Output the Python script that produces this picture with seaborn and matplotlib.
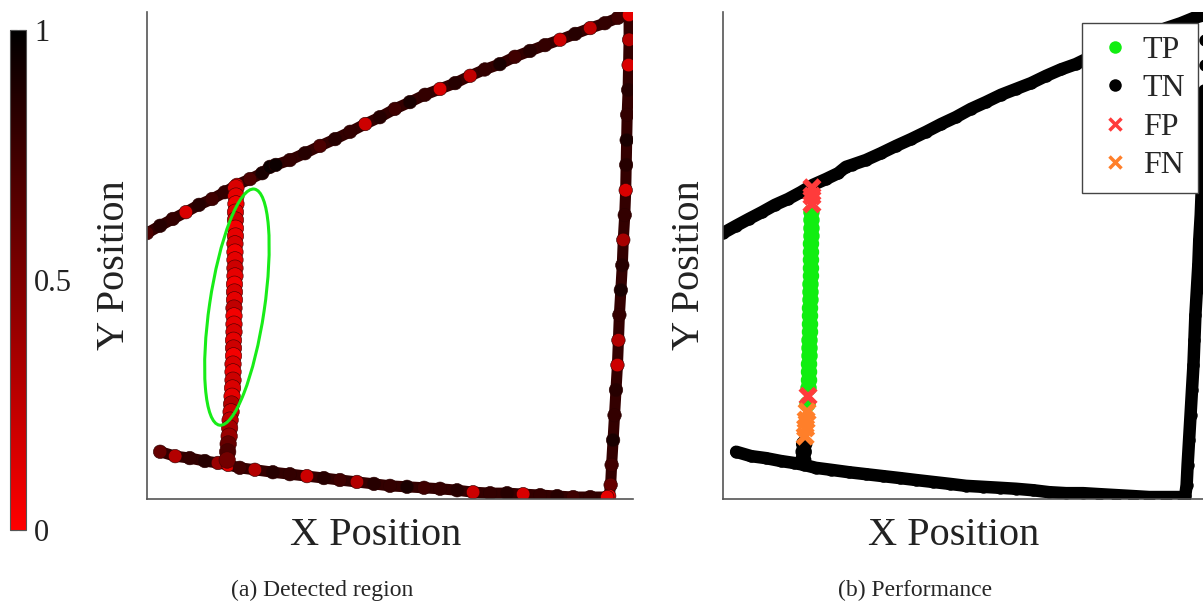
import pandas as pd
import seaborn as sns
import matplotlib
matplotlib.use('Agg')
import matplotlib.pyplot as plt
from matplotlib.colors import LinearSegmentedColormap, Normalize
from matplotlib.cm import ScalarMappable
from matplotlib.patches import Ellipse
from matplotlib.lines import Line2D

# trajectory (arbitrary units, 0-100 on both axes)
# upper diagonal, left end -> top right corner
top_x = [0.0, 2.7, 5.3, 8.0, 10.7, 13.4, 16.0, 18.5, 21.2, 23.7, 25.3, 26.5, 29.4, 32.5, 35.6, 38.7, 41.8, 44.9,
         47.9, 51.0, 54.1, 57.2, 60.3, 63.4, 66.5, 69.5, 72.6, 75.7, 78.8, 81.9, 85.0, 88.1, 91.2, 94.2, 96.9, 99.2]
top_y = [54.6, 56.1, 57.5, 58.9, 60.4, 61.6, 63.0, 64.5, 65.7, 66.9, 68.2, 68.6, 69.6, 71.0, 72.5, 73.9, 75.4, 77.0,
         78.4, 80.1, 81.5, 83.0, 84.2, 85.4, 86.9, 88.2, 89.3, 90.8, 92.0, 93.2, 94.3, 95.5, 96.7, 97.7, 98.8, 99.4]
top_score = [0.7, 0.85, 0.8, 0.15, 0.85, 0.75, 0.8, 0.1, 0.7, 0.9, 0.95, 0.95, 0.8, 0.85, 0.7, 0.85, 0.8, 0.2,
             0.85, 0.75, 0.9, 0.8, 0.15, 0.85, 0.25, 0.8, 0.9, 0.75, 0.85, 0.8, 0.2, 0.85, 0.25, 0.8, 0.75, 0.1]

# right side, top -> bottom
right_x = [99.2, 99.2, 99.1, 99.0, 98.8, 98.7, 98.6, 98.5, 98.3, 98.0, 97.8, 97.5, 97.2, 97.0, 96.8, 96.5, 96.2,
           95.9, 95.6, 95.4, 95.1]
right_y = [99.4, 94.3, 89.1, 84.0, 78.9, 73.7, 68.6, 63.4, 58.3, 53.2, 48.0, 42.9, 37.8, 32.6, 27.5, 22.4, 17.2,
           12.1, 7.0, 2.9, 0.6]
right_score = [0.1, 0.3, 0.15, 0.85, 0.8, 0.9, 0.85, 0.15, 0.8, 0.35, 0.85, 0.9, 0.8, 0.3, 0.2, 0.85, 0.8,
               0.9, 0.75, 0.6, 0.1]

# bottom, left end -> bottom right corner
bottom_x = [2.7, 5.8, 8.8, 11.9, 14.6, 16.7, 19.1, 22.2, 25.9, 29.4, 32.9, 36.4, 39.7, 43.2, 46.7, 50.0, 53.5,
            57.0, 60.3, 63.8, 67.1, 70.6, 74.1, 77.4, 80.9, 84.4, 87.7, 91.2, 94.7]
bottom_y = [9.7, 8.8, 8.4, 7.8, 7.4, 7.0, 6.4, 6.0, 5.5, 5.1, 4.7, 4.3, 3.9, 3.5, 3.1, 2.7, 2.5,
            2.3, 2.1, 1.8, 1.4, 1.2, 1.2, 1.0, 0.8, 0.6, 0.4, 0.4, 0.4]
bottom_score = [0.6, 0.3, 0.8, 0.85, 0.4, 0.1, 0.75, 0.3, 0.85, 0.8, 0.2, 0.85, 0.75, 0.3, 0.85, 0.8, 0.9,
                0.75, 0.8, 0.85, 0.2, 0.8, 0.85, 0.15, 0.8, 0.85, 0.75, 0.8, 0.1]

# the short crossing in the middle, top -> bottom
mid_x = [18.3, 18.3, 18.3, 18.2, 18.2, 18.2, 18.2, 18.1, 18.1, 18.1, 18.1, 18.1, 18.0, 18.0, 18.0, 17.9, 17.9, 17.9,
         17.9, 17.8, 17.8, 17.8, 17.7, 17.7, 17.7, 17.6, 17.5, 17.4, 17.3, 17.1, 17.0, 16.9, 16.7, 16.6, 16.5]
mid_y = [63.9, 62.2, 60.6, 58.9, 57.3, 55.6, 54.0, 52.4, 50.7, 49.1, 47.4, 45.8, 44.1, 42.5, 40.9, 39.2, 37.6, 35.9,
         34.3, 32.6, 31.0, 29.4, 27.7, 26.1, 24.4, 22.8, 21.1, 19.5, 17.9, 16.2, 14.6, 12.9, 11.3, 9.7, 8.0]
mid_score = [0.15, 0.1, 0.05, 0.1, 0.2, 0.05, 0.1, 0.15, 0.05, 0.1, 0.2, 0.1, 0.05, 0.15, 0.1, 0.25, 0.05, 0.1,
             0.15, 0.1, 0.2, 0.05, 0.15, 0.1, 0.2, 0.15, 0.1, 0.3, 0.2, 0.25, 0.35, 0.4, 0.6, 0.7, 0.55]
mid_label = ['FP'] * 3 + ['TP'] * 23 + ['FP', 'TP'] + ['FN'] * 4 + ['TN'] * 3

class_order = ['TP', 'TN', 'FP', 'FN']
class_colors = {'TP': '#11ee11', 'TN': '#000000', 'FP': '#ff3b3b', 'FN': '#ff7f2a'}

sns.set_style('white')
plt.rcParams['font.family'] = ['Liberation Serif', 'DejaVu Serif']

cmap = LinearSegmentedColormap.from_list('red_black', ['#ff0000', '#000000'])

frame = pd.DataFrame({
    'x': top_x + right_x + bottom_x,
    'y': top_y + right_y + bottom_y,
    'score': top_score + right_score + bottom_score,
})
frame['label'] = 'TN'
mid = pd.DataFrame({'x': mid_x, 'y': mid_y, 'score': mid_score, 'label': mid_label})

fig = plt.figure(figsize=(12.03, 6.04), dpi=100)
ax1 = fig.add_axes([147 / 1203, 105 / 604, 486 / 1203, 487 / 604])
ax2 = fig.add_axes([723 / 1203, 105 / 604, 486 / 1203, 487 / 604])
cax = fig.add_axes([10 / 1203, 74 / 604, 16 / 1203, 500 / 604])

segs = [(top_x, top_y), (right_x, right_y), (bottom_x, bottom_y)]

# (a) detection score along the path
for sx, sy in segs:
    ax1.plot(sx, sy, color=cmap(0.8), lw=8, solid_capstyle='round', zorder=1)
ax1.plot(mid_x, mid_y, color=cmap(0.2), lw=10, solid_capstyle='round', zorder=1)
sns.scatterplot(data=frame, x='x', y='y', hue='score', palette=cmap, hue_norm=(0, 1), s=95,
                linewidth=0.4, edgecolor='#2a0000', legend=False, ax=ax1, zorder=2)
sns.scatterplot(data=mid, x='x', y='y', hue='score', palette=cmap, hue_norm=(0, 1), s=140,
                linewidth=0.4, edgecolor='#400000', legend=False, ax=ax1, zorder=3)
ax1.add_patch(Ellipse((18.5, 39.4), width=11.3, height=49.0, angle=-8.4, fill=False,
                      edgecolor='#18ec18', lw=2.2, zorder=4))

# (b) classification result
for sx, sy in segs:
    ax2.plot(sx, sy, color='black', lw=9, solid_capstyle='round', zorder=1)
ax2.plot(mid_x[-3:], mid_y[-3:], color='black', lw=10, solid_capstyle='round', zorder=1)
dots = mid[mid['label'].isin(['TP', 'TN'])]
crosses = mid[mid['label'].isin(['FP', 'FN'])]
sns.scatterplot(data=frame, x='x', y='y', color='black', s=80, linewidth=0, legend=False, ax=ax2, zorder=2)
sns.scatterplot(data=dots, x='x', y='y', hue='label', palette=class_colors, s=140, linewidth=0,
                legend=False, ax=ax2, zorder=3)
sns.scatterplot(data=crosses, x='x', y='y', hue='label', palette=class_colors, marker='x', s=120,
                linewidth=4, legend=False, ax=ax2, zorder=4)

handles = [
    Line2D([], [], ls='none', marker='o' if c in ('TP', 'TN') else 'x', color=class_colors[c],
           markersize=9 if c in ('TP', 'TN') else 8, markeredgewidth=0 if c in ('TP', 'TN') else 2.5)
    for c in class_order
]
leg = ax2.legend(handles, class_order, loc='upper right', bbox_to_anchor=(1198 / 1203, 581 / 604),
                 bbox_transform=fig.transFigure, borderaxespad=0, fontsize=23, frameon=True,
                 fancybox=False, edgecolor='#444444', framealpha=1, handlelength=1.3,
                 handletextpad=0.2, labelspacing=0.28, borderpad=0.4)
leg.get_frame().set_linewidth(1.0)

for ax in (ax1, ax2):
    ax.set_xlim(0, 100)
    ax.set_ylim(0, 100)
    ax.set_xticks([])
    ax.set_yticks([])
    sns.despine(ax=ax)
    for side in ('left', 'bottom'):
        ax.spines[side].set_color('#555555')
        ax.spines[side].set_linewidth(1.2)
    ax.set_xlabel('X Position', fontsize=29, color='#222222')
    ax.set_ylabel('Y Position', fontsize=29, color='#222222')
    ax.xaxis.label.set_va('center')
    ax.yaxis.label.set_va('center')

ax1.xaxis.set_label_coords(0.471, -0.074)
ax1.yaxis.set_label_coords(-0.066, 0.48)
ax2.xaxis.set_label_coords(0.475, -0.074)
ax2.yaxis.set_label_coords(-0.068, 0.48)

cb = fig.colorbar(ScalarMappable(norm=Normalize(0, 1), cmap=cmap), cax=cax, ticks=[0, 0.5, 1])
cb.ax.set_yticklabels(['0', '0.5', '1'])
cb.ax.tick_params(labelsize=22, direction='in', length=5, width=0.8, color='#555555', pad=6,
                  left=True, right=True, labelcolor='#222222')
cb.outline.set_edgecolor('#555555')
cb.outline.set_linewidth(0.8)

fig.text(322 / 1203, 1 - 590 / 604, '(a) Detected region', ha='center', va='center', fontsize=17)
fig.text(915 / 1203, 1 - 590 / 604, '(b) Performance', ha='center', va='center', fontsize=17)

fig.savefig('out.png', dpi=100)
